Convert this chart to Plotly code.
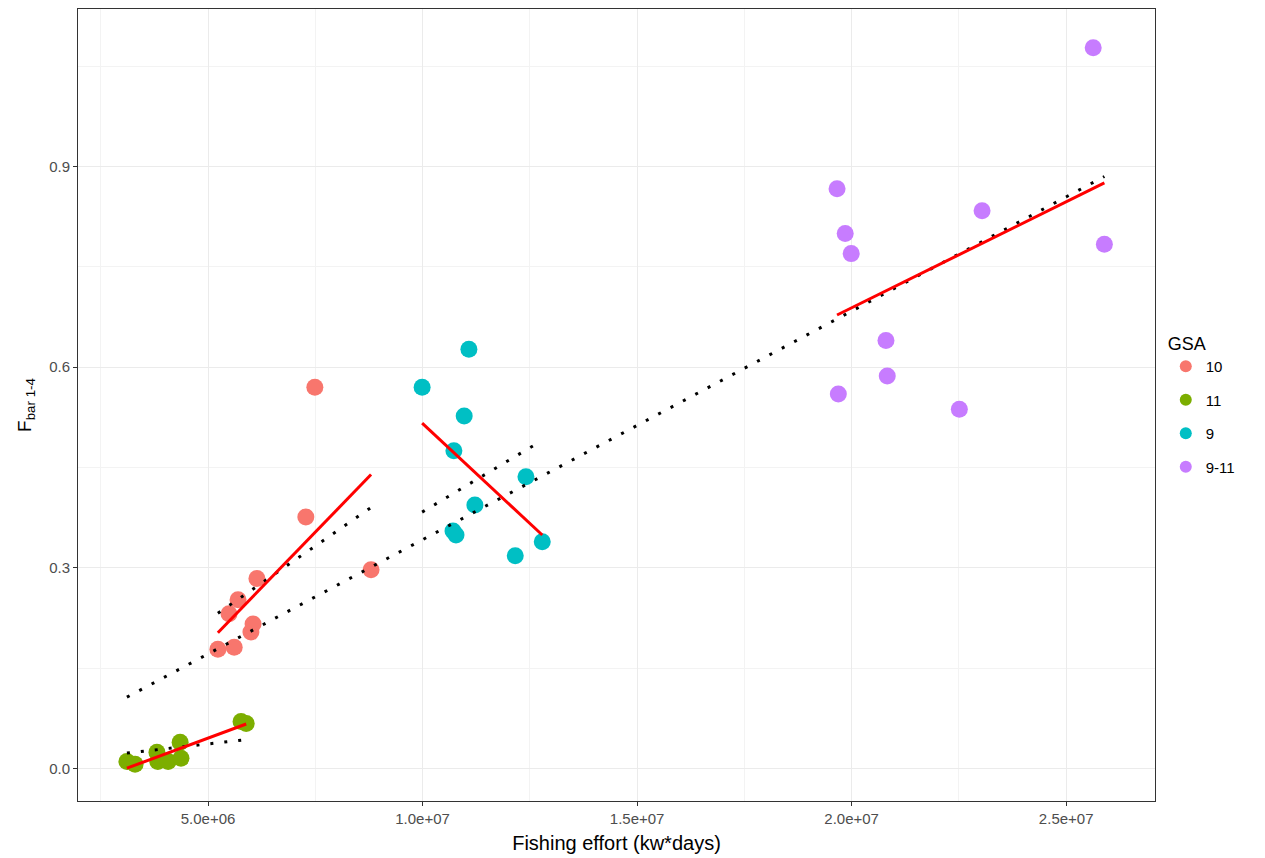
import numpy as np
import plotly.graph_objects as go

# ---- data ----
gsa_labels = ["10", "11", "9", "9-11"]
gsa_colors = ["#F8766D", "#7CAE00", "#00BFC4", "#C77CFF"]

effort_10 = [5.23e6, 5.61e6, 5.49e6, 5.70e6, 6.00e6, 6.05e6, 6.14e6, 7.28e6, 7.49e6, 8.80e6]
fbar_10 = [0.178, 0.181, 0.231, 0.252, 0.204, 0.216, 0.284, 0.376, 0.570, 0.297]

effort_11 = [3.11e6, 3.30e6, 3.81e6, 3.83e6, 4.07e6, 4.35e6, 4.37e6, 5.77e6, 5.89e6]
fbar_11 = [0.010, 0.006, 0.024, 0.010, 0.010, 0.039, 0.015, 0.070, 0.067]

effort_9 = [11.08e6, 9.99e6, 10.97e6, 10.73e6, 12.41e6, 11.22e6, 10.71e6, 10.78e6, 12.79e6, 12.16e6]
fbar_9 = [0.627, 0.570, 0.527, 0.475, 0.436, 0.394, 0.355, 0.349, 0.339, 0.318]

effort_9_11 = [25.63e6, 19.66e6, 19.85e6, 19.99e6, 23.04e6, 25.89e6, 20.80e6, 20.83e6, 19.69e6, 22.51e6]
fbar_9_11 = [1.078, 0.867, 0.800, 0.770, 0.834, 0.784, 0.640, 0.587, 0.560, 0.537]

x_tickvals = [5e6, 1e7, 1.5e7, 2e7, 2.5e7]
x_ticktext = ["5.0e+06", "1.0e+07", "1.5e+07", "2.0e+07", "2.5e+07"]
y_tickvals = [0.0, 0.3, 0.6, 0.9]
y_ticktext = ["0.0", "0.3", "0.6", "0.9"]

efforts = [effort_10, effort_11, effort_9, effort_9_11]
fbars = [fbar_10, fbar_11, fbar_9, fbar_9_11]

fig = go.Figure()

# points
for lab, col, xs, ys in zip(gsa_labels, gsa_colors, efforts, fbars):
    fig.add_trace(go.Scatter(
        x=xs, y=ys, mode="markers", name=lab, legendgroup=lab,
        marker=dict(color=col, size=17, line=dict(width=0)),
    ))

DOT = "3px,11px"

def origin_slope(xs, ys):
    xa = np.array(xs); ya = np.array(ys)
    return float((xa * ya).sum() / (xa * xa).sum())

# dotted: through-origin fits per group
for xs, ys in zip(efforts[:3], fbars[:3]):
    b = origin_slope(xs, ys)
    xx = np.array([min(xs), max(xs)])
    fig.add_trace(go.Scatter(x=xx, y=b * xx, mode="lines", showlegend=False,
                             line=dict(color="black", width=3, dash=DOT), hoverinfo="skip"))

# long dotted line: 9-11 through-origin fit drawn over the whole effort range
b_911 = origin_slope(effort_9_11, fbar_9_11)
all_x = [v for e in efforts for v in e]
xx = np.array([min(all_x), max(all_x)])
fig.add_trace(go.Scatter(x=xx, y=b_911 * xx, mode="lines", showlegend=False,
                         line=dict(color="black", width=3, dash=DOT), hoverinfo="skip"))

# red linear fits per group
for xs, ys in zip(efforts, fbars):
    xa = np.array(xs); ya = np.array(ys)
    m, c = np.polyfit(xa, ya, 1)
    xx = np.array([xa.min(), xa.max()])
    fig.add_trace(go.Scatter(x=xx, y=m * xx + c, mode="lines", showlegend=False,
                             line=dict(color="#FF0000", width=3), hoverinfo="skip"))

grid = "#EBEBEB"
fig.update_layout(
    width=1265, height=858,
    margin=dict(l=78, r=110, t=8, b=56),
    paper_bgcolor="white", plot_bgcolor="white",
    font=dict(family="Liberation Sans, Arial, sans-serif", color="#000000"),
    showlegend=True,
    legend=dict(
        title=dict(text="GSA", font=dict(size=18)),
        font=dict(size=15), x=1.01, xanchor="left", y=0.5, yanchor="middle",
        tracegroupgap=11, itemsizing="constant",
    ),
    xaxis=dict(
        range=[1.97e6, 27.07e6], tickvals=x_tickvals, ticktext=x_ticktext,
        showgrid=True, gridcolor=grid, gridwidth=1.2,
        minor=dict(showgrid=True, gridcolor="#F3F3F3", gridwidth=0.8, dtick=2.5e6, tick0=0),
        ticks="outside", ticklen=4, tickcolor="#333333",
        tickfont=dict(size=15, color="#4D4D4D"),
        showline=True, linecolor="#333333", linewidth=1, mirror=True, zeroline=False,
        title=dict(text="Fishing effort (kw*days)", font=dict(size=20), standoff=9),
    ),
    yaxis=dict(
        range=[-0.049, 1.136], tickvals=y_tickvals, ticktext=y_ticktext,
        showgrid=True, gridcolor=grid, gridwidth=1.2,
        minor=dict(showgrid=True, gridcolor="#F3F3F3", gridwidth=0.8, dtick=0.15, tick0=0),
        ticks="outside", ticklen=4, tickcolor="#333333",
        tickfont=dict(size=15, color="#4D4D4D"),
        showline=True, linecolor="#333333", linewidth=1, mirror=True, zeroline=False,
        title=dict(text="F<sub>bar 1-4</sub>", font=dict(size=19), standoff=12),
    ),
)

fig.write_html("out.html", config={"displayModeBar": False},
               post_script="document.body.style.margin='0';")
